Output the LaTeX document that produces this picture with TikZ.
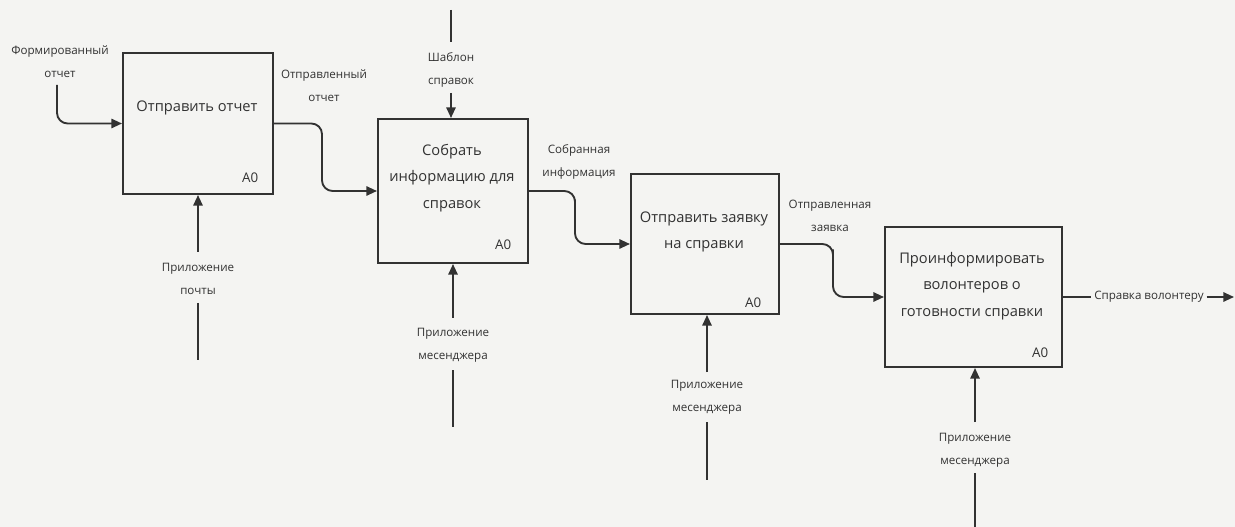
\documentclass[tikz,border=0pt]{standalone}
\usepackage{fontspec}
\setmainfont{Open Sans}
\usetikzlibrary{arrows.meta,calc}
\definecolor{bg}{RGB}{244,244,242}
\definecolor{ink}{RGB}{50,50,50}
\begin{document}
\begin{tikzpicture}[x=0.75pt,y=-0.75pt,
  boxnode/.style={draw=ink,line width=1.5pt,fill=bg,inner sep=0pt,anchor=north west},
  boxtext/.style={align=center,text=ink,font=\fontsize{11}{20}\selectfont},
  tag/.style={text=ink,font=\fontsize{10}{12}\selectfont},
  lbl/.style={align=center,text=ink,inner sep=0pt,font=\fontsize{8.7}{17}\selectfont},
  flow/.style={draw=ink,line width=1.4pt,rounded corners=8,-{Triangle[length=8,width=7]}},
  wire/.style={draw=ink,line width=1.4pt}]
\fill[bg] (0,0) rectangle (1235,527);
\useasboundingbox (0,0) rectangle (1235,527);
% boxes
\node[boxnode,minimum width=150*0.75pt,minimum height=141*0.75pt] (b1) at (122,52) {};
\node[boxnode,minimum width=150*0.75pt,minimum height=144*0.75pt] (b2) at (377,118) {};
\node[boxnode,minimum width=148*0.75pt,minimum height=140*0.75pt] (b3) at (630,173) {};
\node[boxnode,minimum width=177*0.75pt,minimum height=140*0.75pt] (b4) at (884,226) {};
% box texts
\node[boxtext] (t1) at (197,108) {Отправить отчет};
\node[boxtext] (t2) at (452,178) {Собрать\\информацию для\\справок};
\node[boxtext] (t3) at (704,232) {Отправить заявку\\на справки};
\node[boxtext] (t4) at (972,286) {Проинформировать\\волонтеров о\\готовности справки};
\node[tag,anchor=east] (a1) at (263,178) {A0};
\node[tag,anchor=east] (a2) at (516,245) {A0};
\node[tag,anchor=east] (a3) at (766,303) {A0};
\node[tag,anchor=east] (a4) at (1053,353) {A0};
% labels
\node[lbl] (l0) at (60,62) {Формированный\\отчет};
\node[lbl] (l1) at (324,86) {Отправленный\\отчет};
\node[lbl] (l2) at (451,70) {Шаблон\\справок};
\node[lbl] (l3) at (579,162) {Собранная\\информация};
\node[lbl] (l4) at (830,216) {Отправленная\\заявка};
\node[lbl] (m1) at (198,279) {Приложение\\почты};
\node[lbl] (m2) at (453,345) {Приложение\\месенджера};
\node[lbl] (m3) at (707,397) {Приложение\\месенджера};
\node[lbl] (m4) at (975,450) {Приложение\\месенджера};
\node[lbl,inner xsep=2pt] (o4) at (1149,297) {Справка волонтеру};
% free ends and bend points
\coordinate (s0) at (57,85);
\coordinate (c1) at (322,150);
\coordinate (c2) at (575,210);
\coordinate (c3) at (833,260);
\coordinate (k2top) at (451,10);
\coordinate (k2a) at (451,42);
\coordinate (k2b) at (451,93);
\coordinate (e4) at (1234,297);
\coordinate (m1a) at (198,252);\coordinate (m1b) at (198,303);\coordinate (m1c) at (198,360);
\coordinate (m2a) at (453,318);\coordinate (m2b) at (453,370);\coordinate (m2c) at (453,427);
\coordinate (m3a) at (707,372);\coordinate (m3b) at (707,422);\coordinate (m3c) at (707,480);
\coordinate (m4a) at (975,422);\coordinate (m4b) at (975,473);\coordinate (m4c) at (975,527);
% connectors
\draw[flow] (s0) |- (b1.west);
\draw[flow] (b1.east) -| (c1) |- (b2.west);
\draw[flow] (b2.east) -| (c2) |- (b3.west);
\draw[flow] (b3.east) -| (c3) |- (b4.west);
\draw[wire] (b4.east) -- (o4.west);
\draw[flow] (o4.east) -- (e4);
\draw[wire] (k2top) -- (k2a);
\draw[flow] (k2b) -- (b2.north -| k2b);
\draw[flow] (m1a) -- (b1.south -| m1a);
\draw[wire] (m1b) -- (m1c);
\draw[flow] (m2a) -- (b2.south -| m2a);
\draw[wire] (m2b) -- (m2c);
\draw[flow] (m3a) -- (b3.south -| m3a);
\draw[wire] (m3b) -- (m3c);
\draw[flow] (m4a) -- (b4.south -| m4a);
\draw[wire] (m4b) -- (m4c);
\end{tikzpicture}
\end{document}
